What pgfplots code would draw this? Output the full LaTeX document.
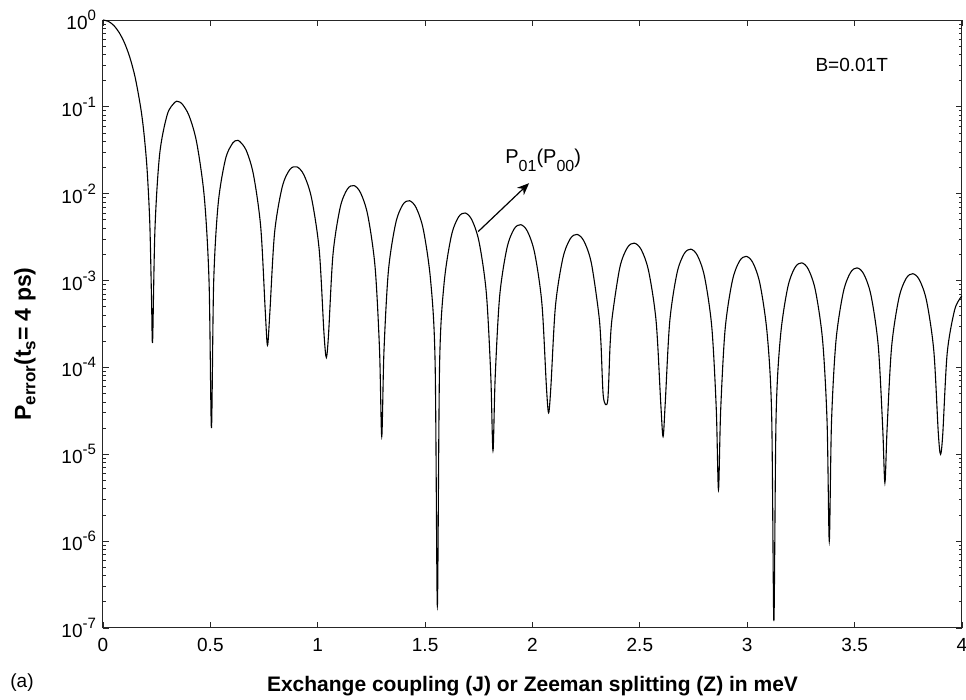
\documentclass[border=0pt]{standalone}
\usepackage{fontspec}
\setmainfont{Liberation Sans}
\usepackage{pgfplots}
\pgfplotsset{compat=1.18}
\usetikzlibrary{arrows.meta}

\newcommand{\sub}[1]{\raisebox{-2.2pt}{\fontsize{8.5}{10}\selectfont #1}}

\begin{document}
\begin{tikzpicture}
\useasboundingbox (-51.5pt,-36pt) rectangle (431.5pt,314pt);
\begin{axis}[
    at={(0pt,0pt)}, anchor=south west,
    scale only axis, width=429.5pt, height=304pt,
    ymode=log, log basis y=10,
    xmin=0, xmax=4, ymin=1e-7, ymax=1,
    xtick={0,0.5,1,1.5,2,2.5,3,3.5,4},
    /pgf/number format/assume math mode=true,
    xticklabel style={font=\fontsize{9.5}{11}\selectfont, yshift=-1.5pt},
    yticklabel={\pgfmathparse{int(round(\tick))}10\raisebox{4.5pt}{\fontsize{7.5}{8}\selectfont\pgfmathresult}},
    yticklabel style={font=\fontsize{9.5}{11}\selectfont},
    axis line style={black!85, line width=0.5pt},
    major tick length=3pt, minor tick length=1.5pt,
    every tick/.style={black!85, line width=0.4pt},
    xtick pos=both, ytick pos=both,
    xlabel={\textbf{Exchange coupling (J) or Zeeman splitting (Z) in meV}},
    xlabel style={font=\fontsize{10.5}{12}\selectfont, at={(axis description cs:0.5,0)}, anchor=base, yshift=-31.8pt},
    ylabel={\textbf{P\sub{\textbf{error}}(t\sub{\textbf{s}}= 4 ps)}},
    ylabel style={font=\fontsize{11.5}{13}\selectfont, at={(axis description cs:0,0.5)}, anchor=center, xshift=-10pt, yshift=39pt},
    clip=false,
]
\addplot[black, line width=0.55pt, smooth, tension=0.5] coordinates {
(0,1)(0.025,0.965)(0.05,0.866)(0.075,0.719)(0.1,0.546)(0.125,0.371)(0.15,0.217)(0.175,0.0998)(0.19,0.0516)(0.205,0.0196)(0.218,0.00454)(0.226,6.1e-4)(0.231,2e-4)
(0.242,0.00394)(0.2639,0.0286)(0.2995,0.0819)(0.3351,0.1131)(0.35,0.1149)(0.368,0.1085)(0.4009,0.0790)(0.4365,0.0386)(0.4721,0.00893)(0.494,9.45e-4)(0.505,2e-5)
(0.5154,9.6e-4)(0.5363,0.00765)(0.5703,0.0250)(0.6042,0.0384)(0.6225,0.0409)(0.6355,0.0402)(0.6668,0.0316)(0.7008,0.0165)(0.7347,0.00408)(0.7556,4.46e-4)(0.766,1.8e-4)
(0.777,4.3e-4)(0.7989,0.00353)(0.8345,0.01194)(0.8701,0.0190)(0.903,0.0204)(0.9359,0.0164)(0.9715,0.00881)(1.0071,0.00222)(1.029,2.47e-4)(1.040,1.3e-4)
(1.0503,2.41e-4)(1.071,0.00200)(1.1045,0.00695)(1.138,0.01131)(1.169,0.0124)(1.2,0.01017)(1.2335,0.00557)(1.267,0.00143)(1.2877,1.6e-4)(1.298,1.6e-5)
(1.3084,1.55e-4)(1.3291,0.001297)(1.3628,0.004553)(1.3964,0.007499)(1.4275,0.0083)(1.4586,0.006872)(1.4923,0.003798)(1.5259,9.84e-4)(1.5466,1.11e-4)(1.557,1.8e-7)
(1.5674,1.09e-4)(1.5881,9.17e-4)(1.6218,0.003244)(1.6554,0.005384)(1.6865,0.0060)(1.7176,0.005001)(1.7513,0.002782)(1.7849,7.26e-4)(1.8056,8.22e-5)(1.816,1.1e-5)
(1.8264,7.84e-5)(1.8471,6.61e-4)(1.8808,0.002354)(1.9144,0.003928)(1.9455,0.0044)(1.9766,0.003685)(2.0103,0.002061)(2.0439,5.40e-4)(2.0646,6.13e-5)(2.075,3e-5)
(2.0856,5.98e-5)(2.1068,5.06e-4)(2.1413,0.001807)(2.1757,0.003026)(2.2075,0.0034)(2.2393,0.002856)(2.2738,0.001602)(2.3082,4.21e-4)(2.3188,1.9e-4)(2.330,4.6e-5)(2.350,4.1e-5)
(2.3614,1.83e-4)(2.3722,3.98e-4)(2.407,0.001426)(2.4418,0.002396)(2.474,0.0027)(2.5062,0.002275)(2.541,0.00128)(2.5758,3.375e-4)(2.5973,3.85e-5)(2.608,1.6e-5)
(2.6183,3.95e-5)(2.639,3.35e-4)(2.6725,0.001206)(2.706,0.002034)(2.737,0.0023)(2.768,0.001944)(2.8015,0.001098)(2.835,2.90e-4)(2.8558,3.32e-5)(2.866,3.9e-6)
(2.8763,3.23e-5)(2.897,2.75e-4)(2.9305,9.92e-4)(2.964,0.001677)(2.995,0.0019)(3.026,0.001609)(3.0595,9.10e-4)(3.093,2.41e-4)(3.1138,2.76e-5)(3.124,1.2e-7)
(3.1343,2.71e-5)(3.155,2.31e-4)(3.1885,8.33e-4)(3.222,0.00141)(3.253,0.0016)(3.284,0.001357)(3.3175,7.69e-4)(3.351,2.04e-4)(3.3718,2.34e-5)(3.382,1.0e-6)
(3.3924,2.35e-5)(3.4131,2.01e-4)(3.4468,7.27e-4)(3.4804,0.001232)(3.5115,0.0014)(3.5426,0.001189)(3.5763,6.75e-4)(3.6099,1.79e-4)(3.6306,2.06e-5)(3.641,4.7e-6)
(3.6514,2.01e-5)(3.6721,1.71e-4)(3.7058,6.21e-4)(3.7394,0.001055)(3.7705,0.0012)(3.8016,0.00102)(3.8353,5.80e-4)(3.8689,1.54e-4)(3.8896,1.77e-5)(3.900,1.0e-5)
(3.9104,1.7e-5)(3.931,1.45e-4)(3.9648,4.5e-4)(3.992,6.3e-4)(4.0,6.6e-4)
};

% annotations
\draw[-{Stealth[length=6pt,width=5pt]}, line width=0.6pt] (axis cs:1.747,0.003664) -- (axis cs:1.984,0.01321);
\node[anchor=base west, inner sep=0pt, font=\fontsize{10}{12}\selectfont] at (axis cs:1.872,0.02244)
    {P\raisebox{-4pt}{\fontsize{8}{9}\selectfont 01}(P\raisebox{-4pt}{\fontsize{8}{9}\selectfont 00})};
\node[anchor=base west, inner sep=0pt, font=\fontsize{9.5}{11}\selectfont] at (axis cs:3.316,0.2521) {B=0.01T};
\node[anchor=base west, inner sep=0pt, font=\fontsize{9.5}{11}\selectfont, xshift=-46.5pt, yshift=-30pt] at (rel axis cs:0,0) {(a)};
\end{axis}
\end{tikzpicture}
\end{document}
